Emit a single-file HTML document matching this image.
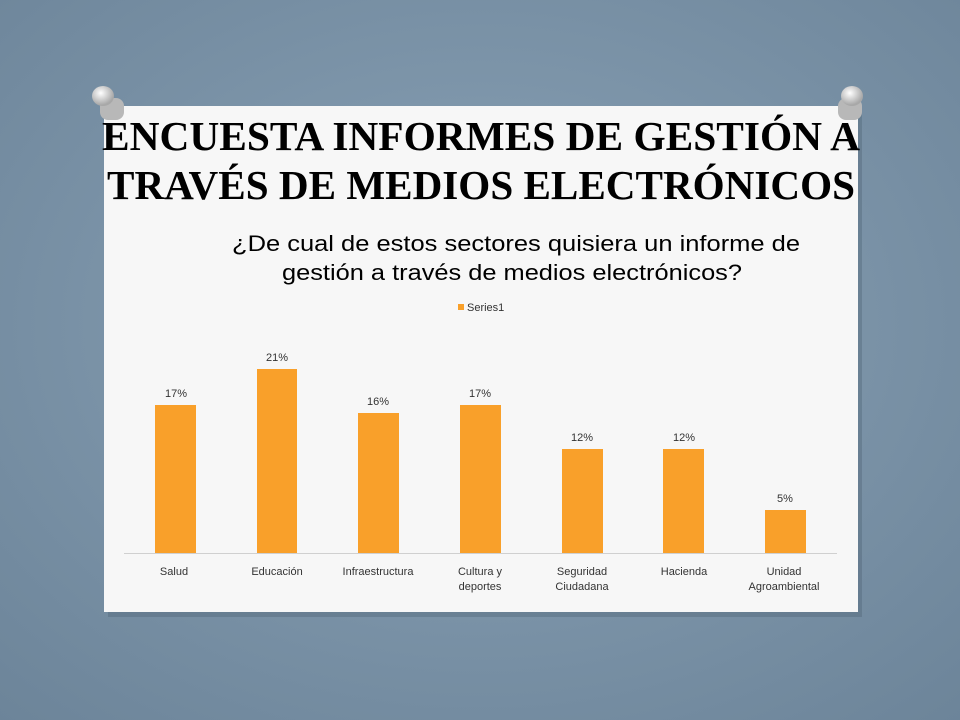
<!DOCTYPE html>
<html><head><meta charset="utf-8"><style>
html,body{margin:0;padding:0;width:960px;height:720px;overflow:hidden;background:#7a93a8}
</style></head><body>
<svg width="960" height="720" xmlns="http://www.w3.org/2000/svg">
<defs>
<radialGradient id="bg" cx="50%" cy="45%" r="75%">
<stop offset="0" stop-color="#8aa2b6"/><stop offset="1" stop-color="#6c8499"/>
</radialGradient>
<radialGradient id="pin" cx="40%" cy="35%" r="60%">
<stop offset="0" stop-color="#ffffff"/><stop offset="1" stop-color="#a8a8a8"/>
</radialGradient>
</defs>
<rect width="960" height="720" fill="url(#bg)"/>
<rect x="108" y="111" width="754" height="506" fill="#4a5e70" opacity="0.35"/>
<rect x="104" y="106" width="754" height="506" fill="#f7f7f7"/>
<rect x="100" y="98" width="24" height="22" rx="8" fill="#b8b8b8"/>
<ellipse cx="103" cy="96" rx="11" ry="10" fill="url(#pin)"/>
<rect x="838" y="98" width="24" height="22" rx="8" fill="#b8b8b8"/>
<ellipse cx="852" cy="96" rx="11" ry="10" fill="url(#pin)"/>
<g font-family="Liberation Serif, serif" font-weight="bold" font-size="41" fill="#000" text-anchor="middle">
<text x="481" y="150" textLength="758" lengthAdjust="spacingAndGlyphs">ENCUESTA INFORMES DE GESTIÓN A</text>
<text x="481" y="199" textLength="748" lengthAdjust="spacingAndGlyphs">TRAVÉS DE MEDIOS ELECTRÓNICOS</text>
</g>
<g font-family="Liberation Sans, sans-serif" font-size="22" fill="#000" text-anchor="middle">
<text x="516" y="251" textLength="568" lengthAdjust="spacingAndGlyphs">¿De cual de estos sectores quisiera un informe de</text>
<text x="512" y="280" textLength="460" lengthAdjust="spacingAndGlyphs">gestión a través de medios electrónicos?</text>
</g>
<rect x="458" y="304" width="6" height="6" fill="#f9a02a"/>
<text x="467" y="311" font-family="Liberation Sans, sans-serif" font-size="11" fill="#333">Series1</text>
<line x1="124" y1="553.5" x2="837" y2="553.5" stroke="#d0d0d0"/>
<g fill="#f9a02a">
<rect x="155" y="405" width="41" height="148"/>
<rect x="257" y="369" width="40" height="184"/>
<rect x="358" y="413" width="41" height="140"/>
<rect x="460" y="405" width="41" height="148"/>
<rect x="562" y="449" width="41" height="104"/>
<rect x="663" y="449" width="41" height="104"/>
<rect x="765" y="510" width="41" height="43"/>
</g>
<g font-family="Liberation Sans, sans-serif" font-size="11" fill="#333" text-anchor="middle">
<text x="176" y="397">17%</text><text x="277" y="361">21%</text><text x="378" y="405">16%</text>
<text x="480" y="397">17%</text><text x="582" y="441">12%</text><text x="684" y="441">12%</text>
<text x="785" y="502">5%</text>
<text x="174" y="575">Salud</text><text x="277" y="575">Educación</text><text x="378" y="575">Infraestructura</text>
<text x="480" y="575">Cultura y</text><text x="480" y="590">deportes</text>
<text x="582" y="575">Seguridad</text><text x="582" y="590">Ciudadana</text>
<text x="684" y="575">Hacienda</text>
<text x="784" y="575">Unidad</text><text x="784" y="590">Agroambiental</text>
</g>
</svg>
</body></html>
